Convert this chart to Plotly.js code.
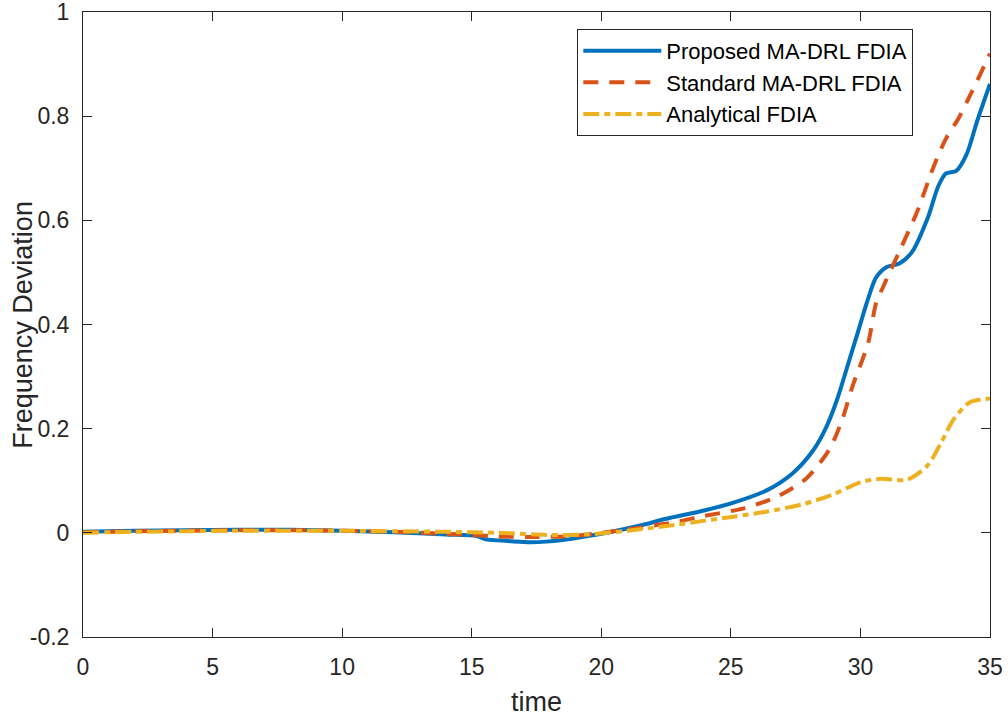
<!DOCTYPE html>
<html>
<head>
<meta charset="utf-8">
<script src="https://cdn.plot.ly/plotly-3.0.1.min.js"></script>
<style>html,body{margin:0;padding:0;background:#fff;}#chart{width:1008px;height:719px;}</style>
</head>
<body>
<div id="chart"></div>
<script>
const seriesNames = ["Proposed MA-DRL FDIA", "Standard MA-DRL FDIA", "Analytical FDIA"];

const proposedT = [0, 2, 4, 6, 8, 10, 12, 14, 15.2, 15.5, 16.5, 17.3, 18.5, 19.5, 20.3, 21.5, 22.5, 23.8, 25.1, 26.4, 27.4, 28.2, 28.7, 29.1, 29.5, 29.9, 30.3, 30.6, 31.0, 31.5, 32.0, 32.6, 33.0, 33.3, 33.7, 34.1, 34.5, 35];
const proposedV = [0.002, 0.004, 0.005, 0.006, 0.006, 0.004, 0.001, -0.003, -0.006, -0.012, -0.016, -0.018, -0.014, -0.006, 0.001, 0.014, 0.027, 0.041, 0.058, 0.082, 0.115, 0.16, 0.205, 0.256, 0.32, 0.385, 0.45, 0.49, 0.51, 0.517, 0.54, 0.605, 0.665, 0.69, 0.695, 0.727, 0.79, 0.862];

const standardT = [0, 2, 4, 6, 8, 10, 12, 14, 15, 16, 17.5, 19, 20, 21.5, 23, 23.8, 25.5, 26.8, 27.9, 28.8, 29.3, 29.7, 30.3, 30.6, 30.9, 31.5, 32.2, 32.8, 33.3, 33.8, 34.3, 35];
const standardV = [0.001, 0.003, 0.004, 0.005, 0.005, 0.004, 0.002, -0.002, -0.004, -0.007, -0.008, -0.006, 0.0, 0.01, 0.022, 0.031, 0.047, 0.07, 0.104, 0.16, 0.218, 0.282, 0.365, 0.44, 0.475, 0.54, 0.618, 0.7, 0.757, 0.797, 0.847, 0.92];

const analyticalT = [0, 2, 4, 6, 8, 10, 12, 14, 16, 18, 19.5, 21, 22.5, 23.8, 25.1, 26.4, 27.7, 28.9, 30, 30.8, 31.8, 32.6, 33.1, 33.6, 34.2, 35];
const analyticalV = [0.0, 0.002, 0.003, 0.004, 0.004, 0.004, 0.003, 0.002, 0.0, -0.004, -0.003, 0.004, 0.013, 0.022, 0.031, 0.041, 0.054, 0.073, 0.097, 0.104, 0.102, 0.13, 0.172, 0.218, 0.25, 0.258];

const xTicks = [0, 5, 10, 15, 20, 25, 30, 35];
const yTicks = [-0.2, 0, 0.2, 0.4, 0.6, 0.8, 1];
const yTickText = ["-0.2", "0", "0.2", "0.4", "0.6", "0.8", "1"];
const xTitle = "time";
const yTitle = "Frequency Deviation";

const font = "Liberation Sans, Arial, Helvetica, sans-serif";
const axisColor = "#262626";

const traces = [
  {x: proposedT, y: proposedV, name: seriesNames[0], mode: "lines",
   line: {color: "#0072BD", width: 4, shape: "spline", smoothing: 0.8}},
  {x: standardT, y: standardV, name: seriesNames[1], mode: "lines",
   line: {color: "#D95319", width: 4, dash: "15px,11px", shape: "spline", smoothing: 0.8}},
  {x: analyticalT, y: analyticalV, name: seriesNames[2], mode: "lines",
   line: {color: "#EDB120", width: 4, dash: "16px,5px,6px,5px", shape: "spline", smoothing: 0.8}}
];

const layout = {
  width: 1008, height: 719,
  margin: {l: 83, r: 18, t: 12, b: 82, pad: 0},
  paper_bgcolor: "#fff", plot_bgcolor: "#fff",
  font: {family: font, size: 23, color: axisColor},
  showlegend: true,
  legend: {x: 0.545, y: 0.973, xanchor: "left", yanchor: "top",
    bgcolor: "#fff", bordercolor: axisColor, borderwidth: 1,
    font: {family: font, size: 22, color: "#000"}, itemwidth: 78},
  xaxis: {range: [0, 35], tickvals: xTicks, ticktext: xTicks.map(String),
    ticks: "inside", ticklen: 9, tickcolor: axisColor, showline: true, linecolor: axisColor,
    linewidth: 1, mirror: "ticks", showgrid: false, zeroline: false,
    ticklabeloverflow: "allow", ticklabelstandoff: 9,
    tickfont: {family: font, size: 23, color: axisColor},
    title: {text: xTitle, font: {family: font, size: 27, color: axisColor}, standoff: 13}},
  yaxis: {range: [-0.2, 1], tickvals: yTicks, ticktext: yTickText,
    ticks: "inside", ticklen: 9, tickcolor: axisColor, showline: true, linecolor: axisColor,
    linewidth: 1, mirror: "ticks", showgrid: false, zeroline: false,
    ticklabeloverflow: "allow", ticklabelstandoff: 8,
    tickfont: {family: font, size: 23, color: axisColor}},
  annotations: [{text: yTitle, xref: "paper", yref: "paper", x: -0.067, y: 0.5,
    xanchor: "center", yanchor: "middle", textangle: -90, showarrow: false,
    font: {family: font, size: 27, color: axisColor}}]
};

Plotly.newPlot("chart", traces, layout, {displayModeBar: false, staticPlot: true});
</script>
</body>
</html>
